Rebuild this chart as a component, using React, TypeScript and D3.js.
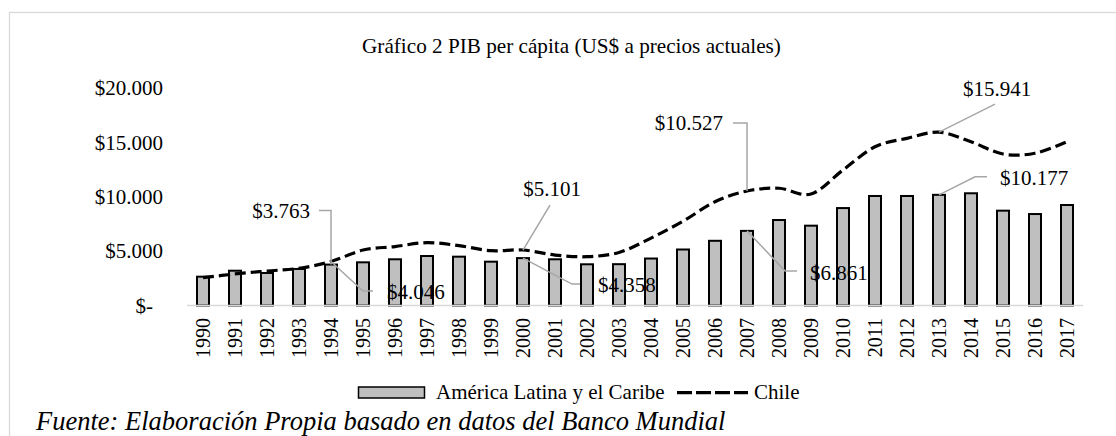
import React from "react";
import * as d3 from "d3";

const years = [
  "1990", "1991", "1992", "1993", "1994", "1995", "1996", "1997", "1998", "1999",
  "2000", "2001", "2002", "2003", "2004", "2005", "2006", "2007", "2008", "2009",
  "2010", "2011", "2012", "2013", "2014", "2015", "2016", "2017",
];
const lacValues = [
  2650, 3200, 2990, 3360, 3763, 3970, 4250, 4550, 4490, 4030,
  4358, 4250, 3790, 3800, 4320, 5150, 5950, 6861, 7860, 7340,
  8960, 10070, 10070, 10177, 10320, 8720, 8410, 9240,
];
const chileValues = [
  2556, 2900, 3170, 3420, 4046, 5100, 5420, 5780, 5500, 5040,
  5101, 4640, 4490, 4880, 6200, 7750, 9540, 10527, 10780, 10250,
  12460, 14600, 15370, 15941, 15060, 13930, 14000, 15060,
];
const yTicks = [0, 5000, 10000, 15000, 20000];
const yTickLabels = ["$-", "$5.000", "$10.000", "$15.000", "$20.000"];
const seriesNames = ["América Latina y el Caribe", "Chile"];
const titleText = "Gráfico 2 PIB per cápita (US$ a precios actuales)";
const sourceText = "Fuente: Elaboración Propia basado en datos del Banco Mundial";

const annotations = [
  { series: "lac", year: "1994", label: "$3.763" },
  { series: "chile", year: "1994", label: "$4.046" },
  { series: "chile", year: "2000", label: "$5.101" },
  { series: "lac", year: "2000", label: "$4.358" },
  { series: "chile", year: "2007", label: "$10.527" },
  { series: "lac", year: "2007", label: "$6.861" },
  { series: "chile", year: "2013", label: "$15.941" },
  { series: "lac", year: "2013", label: "$10.177" },
];

type Layout = {
  anchor: "start" | "middle" | "end";
  tx: number;
  ty: number;
  path: [number, number][];
};
const layouts: Layout[] = [
  { anchor: "end", tx: -21, ty: -47, path: [[-12, -54], [0, -54], [0, 0]] },
  { anchor: "start", tx: 56, ty: 37.5, path: [[0, 0], [32, 29.5], [42, 29.5]] },
  { anchor: "middle", tx: 29, ty: -54, path: [[27, -45], [0, 0]] },
  { anchor: "start", tx: 75, ty: 34, path: [[0, 0], [49, 26], [57, 26]] },
  { anchor: "end", tx: -24, ty: -61, path: [[-14, -68], [0, -68], [0, 0]] },
  { anchor: "start", tx: 63, ty: 49, path: [[0, 0], [38, 40], [50, 40]] },
  { anchor: "middle", tx: 58, ty: -36, path: [[56, -28], [0, 0]] },
  { anchor: "start", tx: 61, ty: -10, path: [[0, 0], [36, -18], [48, -18]] },
];

const FONT = '"Liberation Serif", "DejaVu Serif", serif';
const ts: React.CSSProperties = { fontFamily: FONT };

export default function App() {
  const W = 1116;
  const H = 436;
  const x = d3.scaleBand<string>().domain(years).range([187, 1083]).padding(0);
  const y = d3.scaleLinear().domain([0, 20000]).range([305.5, 88]);
  const cx = (yr: string) => (x(yr) as number) + x.bandwidth() / 2;
  const barW = 12;

  const line = d3
    .line<number>()
    .x((_, i) => cx(years[i]))
    .y((d) => y(d))
    .curve(d3.curveCardinal.tension(0));

  const pt = (a: { series: string; year: string }) => {
    const i = years.indexOf(a.year);
    const v = a.series === "lac" ? lacValues[i] : chileValues[i];
    return [cx(a.year), y(v)] as [number, number];
  };

  return (
    <svg
      width={W}
      height={H}
      style={{ position: "absolute", left: 0, top: 0, background: "#fff", fontFamily: FONT }}
    >
      <rect x={0} y={0} width={W} height={H} fill="#fff" />
      <rect x={9.5} y={12.5} width={1300} height={600} fill="none" stroke="#d9d9d9" strokeWidth={1.3} />
      <text x={571.5} y={53} fontSize={21.2} textAnchor="middle" fill="#000" style={ts}>
        {titleText}
      </text>

      {yTicks.map((t, i) => (
        <text
          key={t}
          x={t === 0 ? 153 : 163}
          y={y(t)}
          dy="0.35em"
          fontSize={21}
          textAnchor="end"
          fill="#000"
          style={ts}
        >
          {yTickLabels[i]}
        </text>
      ))}

      {years.map((yr, i) => (
        <rect
          key={yr}
          x={cx(yr) - barW / 2}
          y={y(lacValues[i])}
          width={barW}
          height={y(0) - y(lacValues[i])}
          fill="#bfbfbf"
          stroke="#000"
          strokeWidth={2}
        />
      ))}

      <line x1={187} x2={1083} y1={y(0)} y2={y(0)} stroke="#d9d9d9" strokeWidth={1.5} />

      {years.map((yr) => (
        <text
          key={yr}
          transform={`translate(${cx(yr) + 7},${318}) rotate(-90)`}
          fontSize={20}
          textAnchor="end"
          fill="#000"
          style={ts}
        >
          {yr}
        </text>
      ))}

      <path
        d={line(chileValues) || ""}
        fill="none"
        stroke="#000"
        strokeWidth={3.2}
        strokeDasharray="11,5"
      />

      {annotations.map((a, i) => {
        const [px, py] = pt(a);
        const L = layouts[i];
        const d = "M" + L.path.map(([dx, dy]) => `${px + dx},${py + dy}`).join("L");
        return (
          <g key={i}>
            <path d={d} fill="none" stroke="#a6a6a6" strokeWidth={1.5} />
            <text x={px + L.tx} y={py + L.ty} fontSize={21} textAnchor={L.anchor} fill="#000" style={ts}>
              {a.label}
            </text>
          </g>
        );
      })}

      <rect x={358.5} y={387} width={66} height={11} fill="#bfbfbf" stroke="#000" strokeWidth={1.5} />
      <text x={436} y={399} fontSize={21} fill="#000" style={ts}>
        {seriesNames[0]}
      </text>
      <line x1={677} x2={748} y1={392.7} y2={392.7} stroke="#000" strokeWidth={3.2} strokeDasharray="15,4" />
      <text x={754} y={399} fontSize={21} fill="#000" style={ts}>
        {seriesNames[1]}
      </text>

      <text x={36} y={429.5} fontSize={26.5} fontStyle="italic" fill="#000" style={ts}>
        {sourceText}
      </text>
    </svg>
  );
}
